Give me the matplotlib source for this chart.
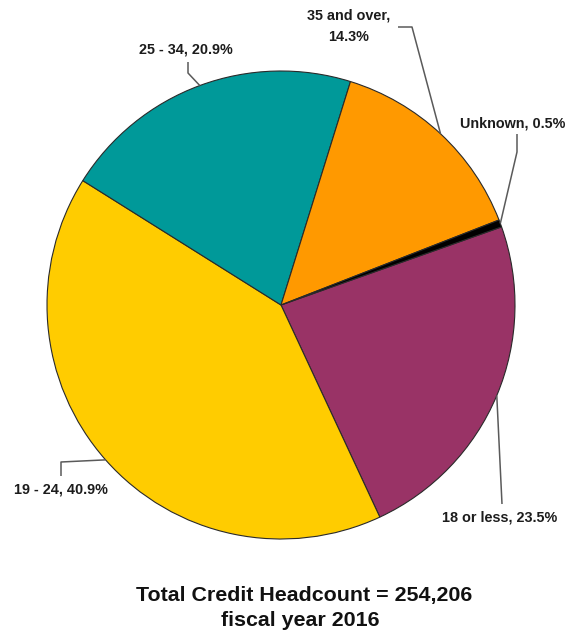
import matplotlib
matplotlib.use('Agg')
import matplotlib.pyplot as plt
import numpy as np

categories = ['18 or less', '19 - 24', '25 - 34', '35 and over', 'Unknown']
shares = [23.5, 40.9, 20.9, 14.3, 0.5]
label_texts = ['18 or less, 23.5%', '19 - 24, 40.9%', '25 - 34, 20.9%',
               '35 and over,\n14.3%', 'Unknown, 0.5%']
colors = ['#993366', '#FFCC00', '#009999', '#FF9900', '#000000']
title_lines = ['Total Credit Headcount = 254,206', 'fiscal year 2016']

plt.rcParams['font.family'] = ['Liberation Sans', 'DejaVu Sans']

W, H = 569, 635
fig = plt.figure(figsize=(W / 100, H / 100), dpi=100)
ax = fig.add_axes([0, 0, 1, 1])

# layout in pixel coordinates (y measured from top)
cx, cy_top, R = 281, 305, 234
cy = H - cy_top

wedges, _ = ax.pie(shares, colors=colors, startangle=19.5, counterclock=False,
                   center=(cx, cy), radius=R,
                   wedgeprops=dict(edgecolor='#2a2a2a', linewidth=0.8))
ax.set_xlim(0, W)
ax.set_ylim(0, H)
ax.set_aspect('equal')
ax.axis('off')

# leader layouts: elbow points (px from top), text centre x and first baseline (px from top)
leader_layout = {
    '18 or less': ([(502, 504)], (500, 522)),
    '19 - 24': ([(61, 462), (61, 476)], (61, 494)),
    '25 - 34': ([(188, 73), (188, 62)], (186, 54)),
    '35 and over': ([(412, 27), (398, 27)], (349, 20)),
    'Unknown': ([(517, 152), (517, 134)], (513, 127)),
}
line_gap = 21

line_col = '#5a5a5a'
for w, cat, txt in zip(wedges, categories, label_texts):
    mid = np.deg2rad((w.theta1 + w.theta2) / 2)
    ex = cx + R * np.cos(mid)
    ey = cy + R * np.sin(mid)
    pts, tpos = leader_layout[cat]
    xs = [ex] + [p[0] for p in pts]
    ys = [ey] + [H - p[1] for p in pts]
    ax.plot(xs, ys, color=line_col, lw=1.1, solid_capstyle='butt')
    for k, line in enumerate(txt.split('\n')):
        ax.text(tpos[0], H - (tpos[1] + k * line_gap), line, ha='center',
                va='baseline', fontsize=10.4, fontweight='bold', color='#1c1c1c')

ax.text(304, H - 601, title_lines[0], ha='center', va='baseline',
        fontsize=15.4, fontweight='bold', color='#111111')
ax.text(300, H - 626, title_lines[1], ha='center', va='baseline',
        fontsize=15.4, fontweight='bold', color='#111111')

fig.savefig('out.png', dpi=100, facecolor='white')
